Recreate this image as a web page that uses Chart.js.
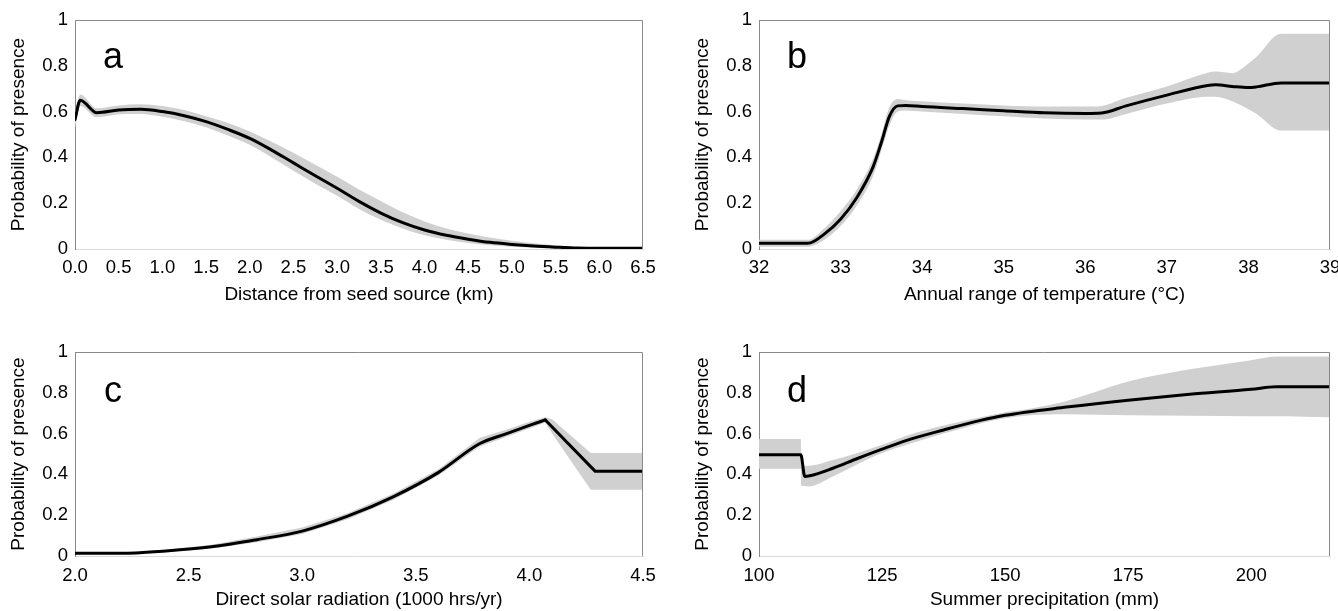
<!DOCTYPE html>
<html><head><meta charset="utf-8">
<script src="https://cdn.jsdelivr.net/npm/chart.js@4.4.1/dist/chart.umd.min.js"></script>
<style>
html,body{margin:0;padding:0;background:#fff;}
body{width:1338px;height:611px;position:relative;overflow:hidden;}
canvas{position:absolute;display:block;}
</style></head><body>
<canvas id="ca" width="669" height="306" style="left:0;top:0"></canvas>
<canvas id="cb" width="654" height="306" style="left:684px;top:0"></canvas>
<canvas id="cc" width="669" height="305" style="left:0;top:306px"></canvas>
<canvas id="cd" width="654" height="305" style="left:684px;top:306px"></canvas>
<script>
// ---- shared y axis ----
const yTickValues = [0, 0.2, 0.4, 0.6, 0.8, 1];
const yTickLabels = ['0', '0.2', '0.4', '0.6', '0.8', '1'];
const yTitle = 'Probability of presence';

// ---- panel a: distance from seed source ----
const aTitle = 'Distance from seed source (km)';
const aTickValues = [0, 0.5, 1, 1.5, 2, 2.5, 3, 3.5, 4, 4.5, 5, 5.5, 6, 6.5];
const aTickLabels = ['0.0','0.5','1.0','1.5','2.0','2.5','3.0','3.5','4.0','4.5','5.0','5.5','6.0','6.5'];
const aLineX = [0, 0.06, 0.25, 0.5, 0.75, 1.0, 1.25, 1.5, 1.75, 2.0, 2.25, 2.5, 2.75, 3.0, 3.25, 3.5, 3.75, 4.0, 4.25, 4.5, 4.75, 5.0, 5.25, 5.5, 5.75, 6.0, 6.5];
const aLineY = [0.565, 0.65, 0.595, 0.607, 0.61, 0.6, 0.582, 0.556, 0.522, 0.483, 0.432, 0.376, 0.32, 0.265, 0.208, 0.157, 0.115, 0.083, 0.06, 0.043, 0.029, 0.02, 0.013, 0.008, 0.004, 0.003, 0.003];
const aBandX = aLineX;
const aBandUpper = [0.6, 0.675, 0.615, 0.627, 0.632, 0.624, 0.607, 0.58, 0.55, 0.513, 0.468, 0.42, 0.368, 0.315, 0.26, 0.21, 0.16, 0.12, 0.09, 0.068, 0.05, 0.036, 0.025, 0.016, 0.008, 0.005, 0.004];
const aBandLower = [0.53, 0.625, 0.575, 0.588, 0.59, 0.578, 0.558, 0.532, 0.496, 0.455, 0.4, 0.342, 0.285, 0.232, 0.175, 0.128, 0.09, 0.06, 0.04, 0.026, 0.016, 0.01, 0.005, 0.002, 0.001, 0.001, 0.001];

// ---- panel b: annual range of temperature ----
const bTitle = 'Annual range of temperature (\u00B0C)';
const bTickValues = [32, 33, 34, 35, 36, 37, 38, 39];
const bTickLabels = ['32','33','34','35','36','37','38','39'];
const bLineX = [32, 32.6, 32.8, 33.0, 33.2, 33.4, 33.5, 33.6, 33.7, 33.8, 34, 34.5, 35, 35.5, 36, 36.2, 36.5, 37, 37.5, 37.6, 37.8, 38.0, 38.1, 38.4, 39];
const bLineY = [0.025, 0.025, 0.065, 0.13, 0.225, 0.36, 0.465, 0.58, 0.625, 0.627, 0.622, 0.613, 0.604, 0.595, 0.592, 0.594, 0.625, 0.672, 0.714, 0.717, 0.71, 0.705, 0.708, 0.725, 0.725];
const bBandX = bLineX;
const bBandUpper = [0.04, 0.04, 0.09, 0.165, 0.26, 0.395, 0.5, 0.62, 0.655, 0.65, 0.645, 0.635, 0.627, 0.622, 0.622, 0.625, 0.66, 0.71, 0.77, 0.775, 0.768, 0.81, 0.84, 0.94, 0.94];
const bBandLower = [0.01, 0.01, 0.04, 0.1, 0.19, 0.32, 0.43, 0.54, 0.6, 0.605, 0.6, 0.59, 0.58, 0.57, 0.565, 0.565, 0.59, 0.635, 0.665, 0.665, 0.645, 0.61, 0.59, 0.517, 0.517];

// ---- panel c: direct solar radiation ----
const cTitle = 'Direct solar radiation (1000 hrs/yr)';
const cTickValues = [2.0, 2.5, 3.0, 3.5, 4.0, 4.5];
const cTickLabels = ['2.0','2.5','3.0','3.5','4.0','4.5'];
const cLineX = [2.0, 2.2, 2.4, 2.6, 2.8, 3.0, 3.2, 3.4, 3.6, 3.78, 3.9, 4.0, 4.07];
const cLineY = [0.013, 0.013, 0.025, 0.045, 0.08, 0.122, 0.195, 0.29, 0.41, 0.55, 0.6, 0.64, 0.667];
const cDropX = [4.07, 4.29, 4.5];
const cDropY = [0.667, 0.415, 0.415];
const cBandX = [2.0, 2.2, 2.4, 2.6, 2.8, 3.0, 3.2, 3.4, 3.6, 3.78, 3.9, 4.0, 4.07, 4.1, 4.27, 4.29, 4.5];
const cBandUpper = [0.017, 0.017, 0.03, 0.055, 0.095, 0.14, 0.21, 0.305, 0.425, 0.578, 0.62, 0.658, 0.68, 0.67, 0.505, 0.505, 0.505];
const cBandLower = [0.009, 0.009, 0.02, 0.037, 0.068, 0.108, 0.18, 0.275, 0.395, 0.535, 0.585, 0.625, 0.655, 0.6, 0.325, 0.325, 0.325];

// ---- panel d: summer precipitation ----
const dTitle = 'Summer precipitation (mm)';
const dTickValues = [100, 125, 150, 175, 200];
const dTickLabels = ['100','125','150','175','200'];
const dLineX = [100, 108.5, 109.3, 110.3, 115, 120, 125, 130, 137.5, 145, 150, 162.5, 175, 187.5, 200, 205, 216];
const dLineY = [0.496, 0.496, 0.39, 0.393, 0.43, 0.478, 0.524, 0.567, 0.618, 0.665, 0.69, 0.73, 0.764, 0.793, 0.817, 0.83, 0.83];
const dBandX = [100, 108.5, 108.6, 110, 115, 120, 125, 130, 137.5, 145, 150, 155, 162.5, 175, 187.5, 200, 205, 216];
const dBandUpper = [0.574, 0.574, 0.445, 0.442, 0.47, 0.505, 0.545, 0.59, 0.64, 0.68, 0.705, 0.722, 0.76, 0.855, 0.915, 0.96, 0.978, 0.978];
const dBandLower = [0.428, 0.428, 0.345, 0.341, 0.39, 0.45, 0.505, 0.545, 0.6, 0.65, 0.675, 0.69, 0.695, 0.69, 0.688, 0.685, 0.685, 0.68];

// ---- styling ----
const FONT = "'Liberation Sans', Arial, Helvetica, sans-serif";
const BAND = '#d0d0d0';
const FRAME = '#8a8a8a';
const BASE = '#dadada';

function pts(xs, ys) { return xs.map((x, i) => ({x: x, y: ys[i]})); }

const framePlugin = {
  id: 'frameAndLetter',
  afterDraw(chart, args, opts) {
    const {ctx, chartArea: a} = chart;
    ctx.save();
    ctx.strokeStyle = FRAME;
    ctx.lineWidth = 1;
    ctx.beginPath();
    const t = Math.round(a.top) + 0.5, r = Math.round(a.right) - 0.5;
    ctx.moveTo(Math.round(a.left), t);
    ctx.lineTo(r, t);
    ctx.lineTo(r, Math.round(a.bottom));
    ctx.stroke();
    ctx.fillStyle = '#000';
    ctx.font = '36px ' + FONT;
    ctx.textAlign = 'center';
    ctx.textBaseline = 'alphabetic';
    ctx.fillText(opts.letter, a.left + 38, a.top + opts.letterDy);
    ctx.restore();
  }
};

function lineDs(xs, ys, smooth) {
  return {data: pts(xs, ys), borderColor: '#000', borderWidth: 3, pointRadius: 0, fill: false,
    cubicInterpolationMode: smooth ? 'monotone' : 'default', tension: 0,
    borderCapStyle: 'round', borderJoinStyle: 'round'};
}

function makePanel(id, cfg) {
  const datasets = cfg.lines.map(l => lineDs(l.x, l.y, l.smooth));
  const bm = cfg.bandSmooth ? 'monotone' : 'default';
  datasets.push({data: pts(cfg.bandX, cfg.upper), borderWidth: 0, borderColor: BAND, backgroundColor: BAND,
    pointRadius: 0, fill: '+1', tension: 0, cubicInterpolationMode: bm});
  datasets.push({data: pts(cfg.bandX, cfg.lower), borderWidth: 0, borderColor: BAND, backgroundColor: BAND,
    pointRadius: 0, fill: false, tension: 0, cubicInterpolationMode: bm});
  new Chart(document.getElementById(id), {
    type: 'line',
    data: {datasets: datasets},
    plugins: [framePlugin],
    options: {
      responsive: false,
      animation: false,
      events: [],
      layout: {padding: {top: cfg.padTop, right: cfg.padRight, left: 0, bottom: 0}},
      plugins: {
        legend: {display: false}, tooltip: {enabled: false},
        frameAndLetter: {letter: cfg.letter, letterDy: cfg.letterDy}
      },
      scales: {
        x: {
          type: 'linear', min: cfg.min, max: cfg.max,
          grid: {display: false, drawTicks: false},
          border: {display: true, color: BASE, width: 1},
          afterBuildTicks: s => { s.ticks = cfg.ticks.map(v => ({value: v})); },
          afterFit: s => { s.height = cfg.xHeight; s.paddingLeft = 0; s.paddingRight = 0; },
          ticks: {
            autoSkip: false, maxRotation: 0, minRotation: 0, padding: cfg.tickPad,
            color: '#000', font: {family: FONT, size: 18.5},
            callback: (v, i) => cfg.tickLabels[i]
          },
          title: {display: true, text: cfg.title, color: '#000', font: {family: FONT, size: 19}, padding: 0}
        },
        y: {
          type: 'linear', min: 0, max: 1,
          grid: {display: false, drawTicks: false},
          border: {display: true, color: FRAME, width: 1},
          afterBuildTicks: s => { s.ticks = yTickValues.map(v => ({value: v})); },
          afterFit: s => { s.width = 75; },
          ticks: {
            autoSkip: false, padding: 7, color: '#000', font: {family: FONT, size: 18.5},
            callback: (v, i) => yTickLabels[i]
          },
          title: {display: true, text: yTitle, color: '#000', font: {family: FONT, size: 19}, padding: {top: 7, bottom: 0}}
        }
      }
    }
  });
}

makePanel('ca', {letter: 'a', letterDy: 48, lines: [{x: aLineX, y: aLineY, smooth: true}], bandSmooth: true,
  bandX: aBandX, upper: aBandUpper, lower: aBandLower,
  min: 0, max: 6.5, ticks: aTickValues, tickLabels: aTickLabels, title: aTitle, padTop: 20, padRight: 26, xHeight: 57, tickPad: 8});
makePanel('cb', {letter: 'b', letterDy: 48, lines: [{x: bLineX, y: bLineY, smooth: true}], bandSmooth: true,
  bandX: bBandX, upper: bBandUpper, lower: bBandLower,
  min: 32, max: 39, ticks: bTickValues, tickLabels: bTickLabels, title: bTitle, padTop: 20, padRight: 8, xHeight: 57, tickPad: 8});
makePanel('cc', {letter: 'c', letterDy: 50, lines: [{x: cLineX, y: cLineY, smooth: true}, {x: cDropX, y: cDropY, smooth: false}], bandSmooth: false,
  bandX: cBandX, upper: cBandUpper, lower: cBandLower,
  min: 2, max: 4.5, ticks: cTickValues, tickLabels: cTickLabels, title: cTitle, padTop: 46, padRight: 26, xHeight: 55, tickPad: 9});
makePanel('cd', {letter: 'd', letterDy: 50, lines: [{x: dLineX, y: dLineY, smooth: true}], bandSmooth: true,
  bandX: dBandX, upper: dBandUpper, lower: dBandLower,
  min: 100, max: 216, ticks: dTickValues, tickLabels: dTickLabels, title: dTitle, padTop: 46, padRight: 8, xHeight: 55, tickPad: 9});
</script>
</body></html>
